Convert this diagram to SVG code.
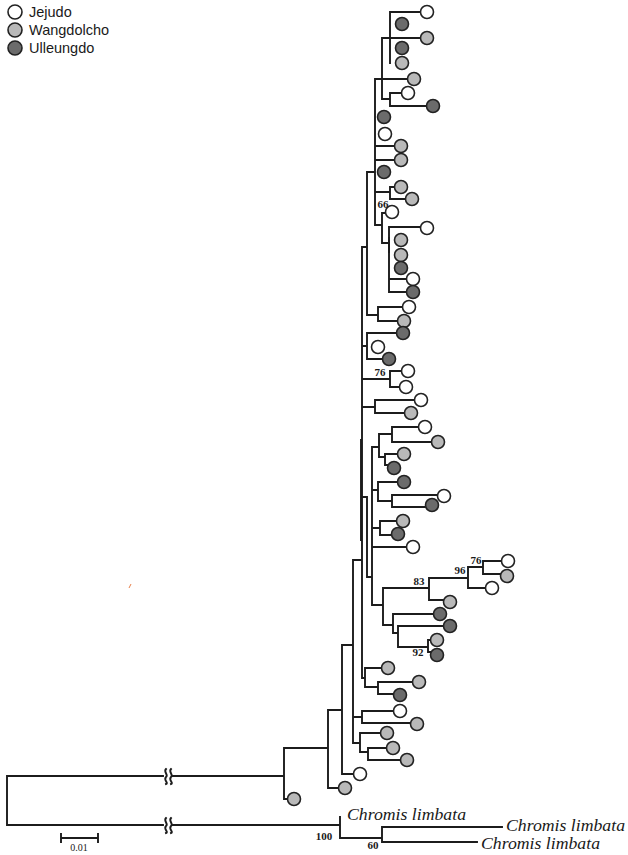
<svg xmlns="http://www.w3.org/2000/svg" width="628" height="855" viewBox="0 0 628 855">
<style>
.ln{fill:none;stroke:#1c1c1c;stroke-width:1.9;stroke-linecap:square}
.c{stroke:#222;stroke-width:1.6}
.w{fill:#ffffff}
.g{fill:#b9b9b9}
.d{fill:#6b6b6b}
.leg{font-family:"Liberation Sans",Arial,sans-serif;font-size:14.5px;fill:#1a1a1a}
.bs{font-family:"Liberation Serif","Times New Roman",serif;font-size:11px;font-weight:bold;fill:#1a1a1a}
.sp{font-family:"Liberation Serif","Times New Roman",serif;font-size:16px;font-style:italic;fill:#1a1a1a}
.sc{font-family:"Liberation Serif","Times New Roman",serif;font-size:10px;fill:#1a1a1a}
</style>
<rect width="628" height="855" fill="#ffffff"/>
<g id="legend">
<circle class="c w" cx="15" cy="12" r="7"/><text class="leg" x="29" y="17">Jejudo</text>
<circle class="c g" cx="15" cy="30" r="7"/><text class="leg" x="29" y="35">Wangdolcho</text>
<circle class="c d" cx="15" cy="48" r="7"/><text class="leg" x="29" y="53">Ulleungdo</text>
</g>
<g id="connectors">
<path class="ln" d="M390,12 H421 M390,12 V63
M382,38 H421 M382,38 V99 H390 M390,93 V106 M390,93 H402 M390,106 H427
M375,79 H408 M375,79 V225
M375,146 H395 M375,160 H395
M375,192 H390 M390,187 V199 H406 M390,187 H395
M375,225 H382 M382,213 V243 H389 M382,213 H386 M389,227 V292 M389,227 H421 M389,279 H407 M389,292 H407
M367,172 H375 M367,172 V315 H378 M378,307 V321 M378,307 H403 M378,321 H398
M362,247 H367 M362,247 V678
M362,346 H367 M367,333 V359 M367,333 H397 M367,359 H383
M362,379 H390 M390,371 V387 M390,371 H402 M390,387 H400
M362,407 H375 M375,400 V413 M375,400 H415 M375,413 H405
M372,447 V605 M372,447 H379 M379,434 V457 M379,434 H392 M392,427 V442 M392,427 H419 M392,442 H432
M379,457 H385 M385,454 V465 M385,454 H398 M385,465 H388
M372,490 H378 M378,482 V501 M378,482 H398 M378,501 H392 M392,495 V507 M392,495 H438 M392,507 H426
M372,528 H380 M380,521 V535 M380,521 H397 M380,535 H392
M372,547 H407
M372,605 H383 M383,588 V625 M383,588 H429 M429,578 V600 M429,600 H444 M429,578 H468 M468,567 V588 M468,588 H486 M468,567 H483 M483,561 V574 M483,561 H502 M483,574 H501
M383,625 H393 M393,614 V633 M393,614 H434 M393,633 H398 M398,626 V647 M398,626 H444 M398,647 H428 M428,640 V652 M428,640 H431 M428,652 H431
M367,497 V577 H372 M362,497 H367
M362,678 H365 M365,668 V687 M365,668 H382 M365,687 H378 M378,682 V694 M378,682 H413 M378,694 H394
M353,560 H362 M353,560 V743 M353,717 H362 M362,711 V723 M362,711 H394 M362,723 H411 M353,743 H360 M360,733 V752 M360,733 H381 M360,752 H368 M368,748 V760 M368,748 H387 M368,760 H401
M342,645 H353 M342,645 V774 H354
M328,710 H342 M328,710 V788 H339
M284,748 H328 M284,748 V799 H288
M7,776 H163 M173,776 H284 M7,776 V825 H163 M173,825 H340
M340,817 V838 H382 M382,827 V842 M382,827 H502 M382,842 H477
M61,838 H98 M61,834 V842 M98,834 V842"/>
<path class="ln" stroke-width="3" d="M361,440 V540 M389,238 V252"/>
<path class="ln" stroke-width="1.5" d="M166,769 c-3,3 3,6 0,8 c-3,3 3,6 0,7 M171,769 c-3,3 3,6 0,8 c-3,3 3,6 0,7 M166,818 c-3,3 3,6 0,8 c-3,3 3,6 0,7 M171,818 c-3,3 3,6 0,8 c-3,3 3,6 0,7"/>
<path d="M129,588 L131,584" stroke="#e8804a" stroke-width="1"/>
</g>
<g id="labels">
<text class="bs" x="383" y="208" text-anchor="middle">66</text>
<text class="bs" x="380" y="376" text-anchor="middle">76</text>
<text class="bs" x="476" y="564" text-anchor="middle">76</text>
<text class="bs" x="460" y="574" text-anchor="middle">96</text>
<text class="bs" x="419" y="585" text-anchor="middle">83</text>
<text class="bs" x="418" y="656" text-anchor="middle">92</text>
<text class="bs" x="324" y="840" text-anchor="middle">100</text>
<text class="bs" x="373" y="849" text-anchor="middle">60</text>
<text class="sc" x="79" y="851" text-anchor="middle">0.01</text>
</g>
<g id="outgroup">
<text class="sp" x="347" y="820" textLength="119" lengthAdjust="spacingAndGlyphs">Chromis limbata</text>
<text class="sp" x="506" y="831" textLength="119" lengthAdjust="spacingAndGlyphs">Chromis limbata</text>
<text class="sp" x="481" y="849" textLength="119" lengthAdjust="spacingAndGlyphs">Chromis limbata</text>
</g>
<g id="leaves">
<g id="n1"><circle class="c w" cx="427" cy="12" r="6.5"/></g>
<g id="n2"><circle class="c d" cx="402" cy="24" r="6.5"/></g>
<g id="n3"><circle class="c g" cx="427" cy="38" r="6.5"/></g>
<g id="n4"><circle class="c d" cx="402" cy="48" r="6.5"/></g>
<g id="n5"><circle class="c g" cx="402" cy="63" r="6.5"/></g>
<g id="n6"><circle class="c g" cx="414" cy="79" r="6.5"/></g>
<g id="n7"><circle class="c w" cx="408" cy="93" r="6.5"/></g>
<g id="n8"><circle class="c d" cx="433" cy="106" r="6.5"/></g>
<g id="n9"><circle class="c d" cx="384" cy="117" r="6.5"/></g>
<g id="n10"><circle class="c w" cx="385" cy="134" r="6.5"/></g>
<g id="n11"><circle class="c g" cx="401" cy="146" r="6.5"/></g>
<g id="n12"><circle class="c g" cx="401" cy="160" r="6.5"/></g>
<g id="n13"><circle class="c d" cx="384" cy="172" r="6.5"/></g>
<g id="n14"><circle class="c g" cx="401" cy="187" r="6.5"/></g>
<g id="n15"><circle class="c g" cx="412" cy="199" r="6.5"/></g>
<g id="n16"><circle class="c w" cx="392" cy="212" r="6.5"/></g>
<g id="n17"><circle class="c w" cx="427" cy="228" r="6.5"/></g>
<g id="n18"><circle class="c g" cx="401" cy="240" r="6.5"/></g>
<g id="n19"><circle class="c g" cx="401" cy="255" r="6.5"/></g>
<g id="n20"><circle class="c d" cx="401" cy="268" r="6.5"/></g>
<g id="n21"><circle class="c w" cx="413" cy="279" r="6.5"/></g>
<g id="n22"><circle class="c d" cx="413" cy="292" r="6.5"/></g>
<g id="n23"><circle class="c w" cx="409" cy="307" r="6.5"/></g>
<g id="n24"><circle class="c g" cx="404" cy="321" r="6.5"/></g>
<g id="n25"><circle class="c d" cx="403" cy="333" r="6.5"/></g>
<g id="n26"><circle class="c w" cx="378" cy="347" r="6.5"/></g>
<g id="n27"><circle class="c d" cx="389" cy="359" r="6.5"/></g>
<g id="n28"><circle class="c w" cx="408" cy="371" r="6.5"/></g>
<g id="n29"><circle class="c w" cx="406" cy="387" r="6.5"/></g>
<g id="n30"><circle class="c w" cx="421" cy="400" r="6.5"/></g>
<g id="n31"><circle class="c g" cx="411" cy="413" r="6.5"/></g>
<g id="n32"><circle class="c w" cx="425" cy="427" r="6.5"/></g>
<g id="n33"><circle class="c g" cx="438" cy="442" r="6.5"/></g>
<g id="n34"><circle class="c g" cx="404" cy="454" r="6.5"/></g>
<g id="n35"><circle class="c d" cx="394" cy="468" r="6.5"/></g>
<g id="n36"><circle class="c d" cx="404" cy="482" r="6.5"/></g>
<g id="n37"><circle class="c w" cx="444" cy="496" r="6.5"/></g>
<g id="n38"><circle class="c d" cx="432" cy="505" r="6.5"/></g>
<g id="n39"><circle class="c g" cx="403" cy="521" r="6.5"/></g>
<g id="n40"><circle class="c d" cx="398" cy="534" r="6.5"/></g>
<g id="n41"><circle class="c w" cx="413" cy="547" r="6.5"/></g>
<g id="n42"><circle class="c w" cx="508" cy="561" r="6.5"/></g>
<g id="n43"><circle class="c g" cx="507" cy="576" r="6.5"/></g>
<g id="n44"><circle class="c w" cx="492" cy="588" r="6.5"/></g>
<g id="n45"><circle class="c g" cx="450" cy="602" r="6.5"/></g>
<g id="n46"><circle class="c d" cx="440" cy="614" r="6.5"/></g>
<g id="n47"><circle class="c d" cx="450" cy="626" r="6.5"/></g>
<g id="n48"><circle class="c g" cx="437" cy="640" r="6.5"/></g>
<g id="n49"><circle class="c d" cx="437" cy="655" r="6.5"/></g>
<g id="n50"><circle class="c g" cx="388" cy="668" r="6.5"/></g>
<g id="n51"><circle class="c g" cx="419" cy="682" r="6.5"/></g>
<g id="n52"><circle class="c d" cx="400" cy="695" r="6.5"/></g>
<g id="n53"><circle class="c w" cx="400" cy="711" r="6.5"/></g>
<g id="n54"><circle class="c g" cx="417" cy="724" r="6.5"/></g>
<g id="n55"><circle class="c g" cx="387" cy="733" r="6.5"/></g>
<g id="n56"><circle class="c g" cx="393" cy="748" r="6.5"/></g>
<g id="n57"><circle class="c g" cx="407" cy="760" r="6.5"/></g>
<g id="n58"><circle class="c w" cx="360" cy="774" r="6.5"/></g>
<g id="n59"><circle class="c g" cx="345" cy="788" r="6.5"/></g>
<g id="n60"><circle class="c g" cx="294" cy="799" r="6.5"/></g>
</g>
</svg>
